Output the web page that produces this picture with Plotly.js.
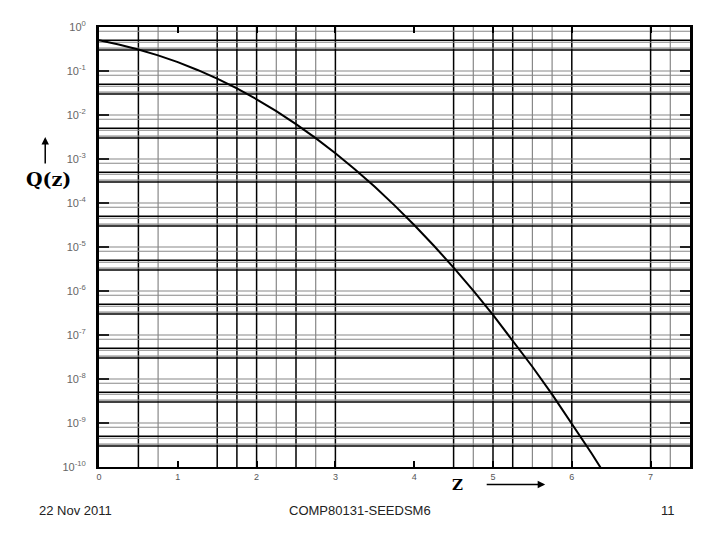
<!DOCTYPE html>
<html>
<head>
<meta charset="utf-8">
<script src="https://cdn.plot.ly/plotly-3.0.1.min.js"></script>
<style>html,body{margin:0;padding:0;background:#fff;}#chart{width:720px;height:540px;}</style>
</head>
<body>
<div id="chart"></div>
<script>
// Values: z and Q(z)
var zValues = [0, 0.25, 0.5, 0.75, 1, 1.25, 1.5, 1.75, 2, 2.25, 2.5, 2.75, 3, 3.25, 3.5, 3.75, 4, 4.25, 4.5, 4.75, 5, 5.25, 5.5, 5.75, 6, 6.25, 6.5];
var qValues = [0.5, 0.401, 0.3085, 0.2266, 0.1587, 0.1056, 0.0668, 0.0401, 0.02275, 0.01222, 0.00621, 0.00298, 0.00135, 5.77e-4, 2.33e-4, 8.84e-5, 3.17e-5, 1.07e-5, 3.40e-6, 1.02e-6, 2.87e-7, 7.60e-8, 1.90e-8, 4.47e-9, 9.87e-10, 2.05e-10, 4.02e-11];

// Axis tick labels
var xTickVals = [0, 1, 2, 3, 4, 5, 6, 7];
var xTickText = ['0', '1', '2', '3', '4', '5', '6', '7'];
var yTickVals = [1, 1e-1, 1e-2, 1e-3, 1e-4, 1e-5, 1e-6, 1e-7, 1e-8, 1e-9, 1e-10];
var yTickText = ['10<sup>0</sup>', '10<sup>-1</sup>', '10<sup>-2</sup>', '10<sup>-3</sup>', '10<sup>-4</sup>', '10<sup>-5</sup>', '10<sup>-6</sup>', '10<sup>-7</sup>', '10<sup>-8</sup>', '10<sup>-9</sup>', '10<sup>-10</sup>'];

// Grid line positions (chart-paper rulings)
var xGridDark = [0.5, 1.5, 1.75, 2, 2.5, 3, 4.5, 5, 5.25, 6, 7];
var xGridLight = [0.75, 2.25, 2.75, 4.75, 5.5, 5.75, 7.25];
var decadeExps = [0, -1, -2, -3, -4, -5, -6, -7, -8, -9];
var yDarkMult = [0.5, 0.3];
var yLightMult = [1, 0.8, 0.45, 0.33];

var shapes = [];
xGridDark.forEach(function (v) {
  shapes.push({type: 'line', xref: 'x', yref: 'paper', x0: v, x1: v, y0: 0, y1: 1, layer: 'below', line: {color: '#000', width: 1.5}});
});
xGridLight.forEach(function (v) {
  shapes.push({type: 'line', xref: 'x', yref: 'paper', x0: v, x1: v, y0: 0, y1: 1, layer: 'below', line: {color: '#888', width: 1.2}});
});
decadeExps.forEach(function (e) {
  var base = Math.pow(10, e);
  yDarkMult.forEach(function (m) {
    shapes.push({type: 'line', xref: 'paper', yref: 'y', x0: 0, x1: 1, y0: m * base, y1: m * base, layer: 'below', line: {color: '#000', width: 1.5}});
  });
  yLightMult.forEach(function (m) {
    if (e === 0 && m === 1) return;
    shapes.push({type: 'line', xref: 'paper', yref: 'y', x0: 0, x1: 1, y0: m * base, y1: m * base, layer: 'below', line: {color: '#888', width: 1.2}});
  });
});

var trace = {
  x: zValues,
  y: qValues,
  type: 'scatter',
  mode: 'lines',
  line: {color: '#000', width: 2},
  cliponaxis: true,
  showlegend: false
};

var layout = {
  width: 720,
  height: 540,
  margin: {l: 99, r: 30, t: 27, b: 73},
  paper_bgcolor: '#fff',
  plot_bgcolor: '#fff',
  font: {family: 'Liberation Sans, Arial, sans-serif', color: '#333'},
  xaxis: {
    range: [0, 7.5],
    tickvals: xTickVals,
    ticktext: xTickText,
    showgrid: false,
    zeroline: false,
    ticks: 'inside',
    ticklen: 6,
    tickwidth: 2,
    tickcolor: '#000',
    showline: true,
    linecolor: '#000',
    linewidth: 2,
    mirror: 'allticks',
    tickfont: {size: 9, color: '#555'}
  },
  yaxis: {
    type: 'log',
    range: [-10, 0],
    tickvals: yTickVals,
    ticktext: yTickText,
    showgrid: false,
    zeroline: false,
    ticks: 'inside',
    ticklen: 10,
    tickwidth: 1.5,
    tickcolor: '#222',
    showline: true,
    linecolor: '#000',
    linewidth: 3,
    mirror: 'allticks',
    ticklabelstandoff: 8,
    tickfont: {size: 11, color: '#666'}
  },
  shapes: shapes,
  annotations: [
    {xref: 'paper', yref: 'paper', x: -0.086, y: 0.655, xanchor: 'center', yanchor: 'middle', text: '<b>Q(z)</b>', showarrow: false, font: {family: 'DejaVu Serif, serif', size: 19, color: '#000'}},
    {xref: 'paper', yref: 'paper', x: -0.091, y: 0.75, ax: 0, ay: 28, text: '', showarrow: true, arrowhead: 2, arrowsize: 1, arrowwidth: 1.5, arrowcolor: '#000'},
    {xref: 'paper', yref: 'paper', x: 0.606, y: -0.04, xanchor: 'center', yanchor: 'middle', text: '<b>Z</b>', showarrow: false, font: {family: 'DejaVu Serif, serif', size: 15, color: '#000'}},
    {xref: 'paper', yref: 'paper', x: 0.755, y: -0.04, ax: -60, ay: 0, text: '', showarrow: true, arrowhead: 2, arrowsize: 1, arrowwidth: 1.5, arrowcolor: '#000'},
    {xref: 'paper', yref: 'paper', x: -0.039, y: -0.098, xanchor: 'center', yanchor: 'middle', text: '22 Nov 2011', showarrow: false, font: {size: 13, color: '#222'}},
    {xref: 'paper', yref: 'paper', x: 0.4416, y: -0.098, xanchor: 'center', yanchor: 'middle', text: 'COMP80131-SEEDSM6', showarrow: false, font: {size: 13, color: '#222'}},
    {xref: 'paper', yref: 'paper', x: 0.963, y: -0.098, xanchor: 'center', yanchor: 'middle', text: '11', showarrow: false, font: {size: 13, color: '#222'}}
  ]
};

Plotly.newPlot('chart', [trace], layout, {displayModeBar: false, staticPlot: true});
</script>
</body>
</html>
